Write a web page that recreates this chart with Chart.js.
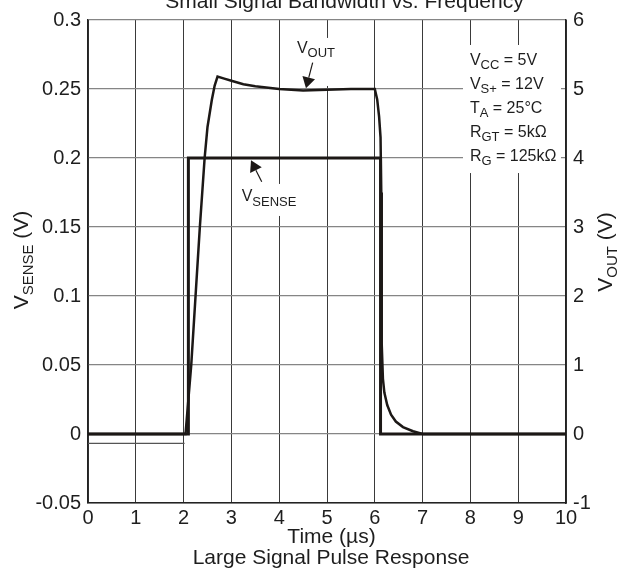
<!DOCTYPE html>
<html><head><meta charset="utf-8">
<script src="https://cdn.jsdelivr.net/npm/chart.js@4/dist/chart.umd.min.js"></script>
<style>html,body{margin:0;padding:0;background:#fff;}canvas{display:block;}</style>
</head><body>
<canvas id="c" width="621" height="571"></canvas>
<script>
// ---- tick labels ----
const timeTicks = ['0','1','2','3','4','5','6','7','8','9','10'];
const vsenseTicks = ['-0.05','0','0.05','0.1','0.15','0.2','0.25','0.3'];
const voutTicks = ['-1','0','1','2','3','4','5','6'];

// ---- series (time in µs) ----
const vsenseTime  = [0, 2.1, 2.1, 6.12, 6.12, 10];
const vsenseValue = [0, 0, 0.2, 0.2, 0, 0];

const voutTime  = [0, 2.04, 2.1, 2.16, 2.25, 2.34, 2.44, 2.5, 2.59, 2.65, 2.71, 2.85, 3.0, 3.25, 3.5, 4.0, 4.5, 5.0, 5.5, 6.0, 6.05, 6.09, 6.12, 6.135, 6.14, 6.15, 6.17, 6.2, 6.26, 6.34, 6.44, 6.59, 6.8, 7.0, 10];
const voutValue = [0, 0, 0.5, 1.0, 2.0, 3.0, 4.0, 4.45, 4.84, 5.05, 5.18, 5.15, 5.12, 5.07, 5.04, 5.0, 4.98, 4.99, 5.0, 5.0, 4.85, 4.6, 4.3, 3.5, 2.5, 1.3, 0.8, 0.6, 0.42, 0.28, 0.18, 0.1, 0.04, 0, 0];

const offsetTime  = [0, 2.02];
const offsetValue = [-0.0068, -0.0068];

// ---- texts ----
const topTitle = 'Small Signal Bandwidth vs. Frequency';
const bottomTitle = 'Large Signal Pulse Response';
const xTitle = 'Time (\u00b5s)';
const leftTitle  = [['V',false],['SENSE',true],[' (V)',false]];
const rightTitle = [['V',false],['OUT',true],[' (V)',false]];
const voutLabel   = [['V',false],['OUT',true]];
const vsenseLabel = [['V',false],['SENSE',true]];
const conditionLines = [
  [['V',false],['CC',true],[' = 5V',false]],
  [['V',false],['S+',true],[' = 12V',false]],
  [['T',false],['A',true],[' = 25\u00b0C',false]],
  [['R',false],['GT',true],[' = 5k\u03a9',false]],
  [['R',false],['G',true],[' = 125k\u03a9',false]]
];

const FONT = '"Liberation Sans", Arial, Helvetica, sans-serif';
const INK = '#1c1816';
const TXT = '#1e1e1e';

const pts = (xs, ys) => xs.map((x, i) => ({x: x, y: ys[i]}));

function drawParts(ctx, parts, x, y, base, sub, drop, align) {
  const widths = parts.map(([t, s]) => { ctx.font = (s ? sub : base) + 'px ' + FONT; return ctx.measureText(t).width; });
  const total = widths.reduce((a, b) => a + b, 0);
  let cx = align === 'center' ? x - total / 2 : x;
  ctx.textAlign = 'left';
  ctx.textBaseline = 'alphabetic';
  parts.forEach(([t, s], i) => {
    ctx.font = (s ? sub : base) + 'px ' + FONT;
    ctx.fillText(t, cx, s ? y + drop : y);
    cx += widths[i];
  });
}

function drawArrow(ctx, x0, y0, x1, y1, len, half) {
  const ang = Math.atan2(y1 - y0, x1 - x0);
  const bx = x1 - len * Math.cos(ang), by = y1 - len * Math.sin(ang);
  ctx.beginPath(); ctx.moveTo(x0, y0); ctx.lineTo(bx, by);
  ctx.lineWidth = 1.2; ctx.strokeStyle = INK; ctx.stroke();
  ctx.beginPath();
  ctx.moveTo(x1, y1);
  ctx.lineTo(bx + half * Math.sin(ang), by - half * Math.cos(ang));
  ctx.lineTo(bx - half * Math.sin(ang), by + half * Math.cos(ang));
  ctx.closePath(); ctx.fillStyle = INK; ctx.fill();
}

// annotation anchors in data coordinates (time, V_SENSE units)
const voutLabelAt = [4.37, 0.2763];
const voutArrow = [[4.70, 0.2691], [4.56, 0.2505]];
const vsenseLabelAt = [3.215, 0.1688];
const vsenseArrow = [[3.634, 0.1828], [3.41, 0.1983]];
const whiteBoxes = [[4.23, 0.287, 5.38, 0.2522], [3.14, 0.1812, 4.48, 0.158], [7.845, 0.2819, 9.895, 0.1891]];
const conditionAt = [7.99, 0.2674];

const annotate = {
  id: 'annotate',
  beforeDatasetsDraw(chart) {
    const {ctx, scales: {x, y}} = chart;
    ctx.save();
    ctx.fillStyle = '#fff';
    whiteBoxes.forEach(b => {
      const x0 = x.getPixelForValue(b[0]), y0 = y.getPixelForValue(b[1]);
      const x1 = x.getPixelForValue(b[2]), y1 = y.getPixelForValue(b[3]);
      ctx.fillRect(x0, y0, x1 - x0, y1 - y0);
    });
    ctx.restore();
  },
  afterDatasetsDraw(chart) {
    const {ctx, scales: {x, y}} = chart;
    ctx.save();
    ctx.fillStyle = TXT;
    drawParts(ctx, voutLabel, x.getPixelForValue(voutLabelAt[0]), y.getPixelForValue(voutLabelAt[1]), 16, 13, 4.5, 'left');
    drawParts(ctx, vsenseLabel, x.getPixelForValue(vsenseLabelAt[0]), y.getPixelForValue(vsenseLabelAt[1]), 16, 13, 5, 'left');
    drawArrow(ctx, x.getPixelForValue(voutArrow[0][0]), y.getPixelForValue(voutArrow[0][1]),
              x.getPixelForValue(voutArrow[1][0]), y.getPixelForValue(voutArrow[1][1]), 11, 6.5);
    drawArrow(ctx, x.getPixelForValue(vsenseArrow[0][0]), y.getPixelForValue(vsenseArrow[0][1]),
              x.getPixelForValue(vsenseArrow[1][0]), y.getPixelForValue(vsenseArrow[1][1]), 11, 6.5);
    ctx.fillStyle = TXT;
    const cx = x.getPixelForValue(conditionAt[0]);
    const cy = y.getPixelForValue(conditionAt[1]);
    conditionLines.forEach((ln, i) => drawParts(ctx, ln, cx, cy + i * 24, 16, 13, 4.5, 'left'));
    ctx.restore();
  },
  afterDraw(chart) {
    const {ctx} = chart;
    ctx.save();
    ctx.fillStyle = TXT;
    ctx.font = '21px ' + FONT;
    ctx.textAlign = 'center';
    ctx.textBaseline = 'alphabetic';
    ctx.fillText(topTitle, 344.5, 8);
    ctx.fillText(xTitle, 331.5, 543);
    ctx.fillText(bottomTitle, 331, 564);
    // left axis title
    ctx.save();
    ctx.translate(28, 260); ctx.rotate(-Math.PI / 2);
    drawParts(ctx, leftTitle, 0, 0, 21, 15, 5, 'center');
    ctx.restore();
    // right axis title
    ctx.save();
    ctx.translate(612, 252); ctx.rotate(-Math.PI / 2);
    drawParts(ctx, rightTitle, 0, 0, 21, 15, 5, 'center');
    ctx.restore();
    ctx.restore();
  }
};

const pick = (labels) => (v) => {
  const l = labels.find(s => Math.abs(parseFloat(s) - v) < 1e-6);
  return l === undefined ? '' : l;
};

new Chart(document.getElementById('c'), {
  type: 'line',
  data: {
    datasets: [
      {data: pts(offsetTime, offsetValue), yAxisID: 'y', borderColor: '#555', borderWidth: 1.2, pointRadius: 0, tension: 0},
      {data: pts(vsenseTime, vsenseValue), yAxisID: 'y', borderColor: INK, borderWidth: 3, pointRadius: 0, tension: 0, borderJoinStyle: 'miter'},
      {data: pts(voutTime, voutValue), yAxisID: 'y2', borderColor: INK, borderWidth: 2.5, pointRadius: 0, tension: 0, borderJoinStyle: 'miter'}
    ]
  },
  options: {
    responsive: false,
    animation: false,
    devicePixelRatio: 1,
    layout: {padding: {top: 20, left: 0, right: 0, bottom: 0}},
    plugins: {legend: {display: false}, tooltip: {enabled: false}, title: {display: false}},
    scales: {
      x: {
        type: 'linear', min: 0, max: 10,
        ticks: {stepSize: 1, padding: 3, color: TXT, font: {family: FONT, size: 20}, maxRotation: 0, autoSkip: false, callback: pick(timeTicks)},
        grid: {color: '#3a3a3a', lineWidth: 1, drawTicks: false},
        border: {display: true, color: '#222', width: 1.5},
        afterFit: s => { s.height = 68; }
      },
      y: {
        position: 'left', min: -0.05, max: 0.3,
        ticks: {stepSize: 0.05, padding: 7, color: TXT, font: {family: FONT, size: 20}, callback: pick(vsenseTicks)},
        grid: {color: '#858585', lineWidth: 1.3, drawTicks: false},
        border: {display: true, color: '#222', width: 1.5},
        afterFit: s => { s.width = 88; }
      },
      y2: {
        position: 'right', min: -1, max: 6,
        ticks: {stepSize: 1, padding: 7, color: TXT, font: {family: FONT, size: 20}, callback: pick(voutTicks)},
        grid: {drawOnChartArea: false, drawTicks: false},
        border: {display: true, color: '#222', width: 1.5},
        afterFit: s => { s.width = 55; }
      }
    }
  },
  plugins: [annotate]
});
</script>
</body></html>
